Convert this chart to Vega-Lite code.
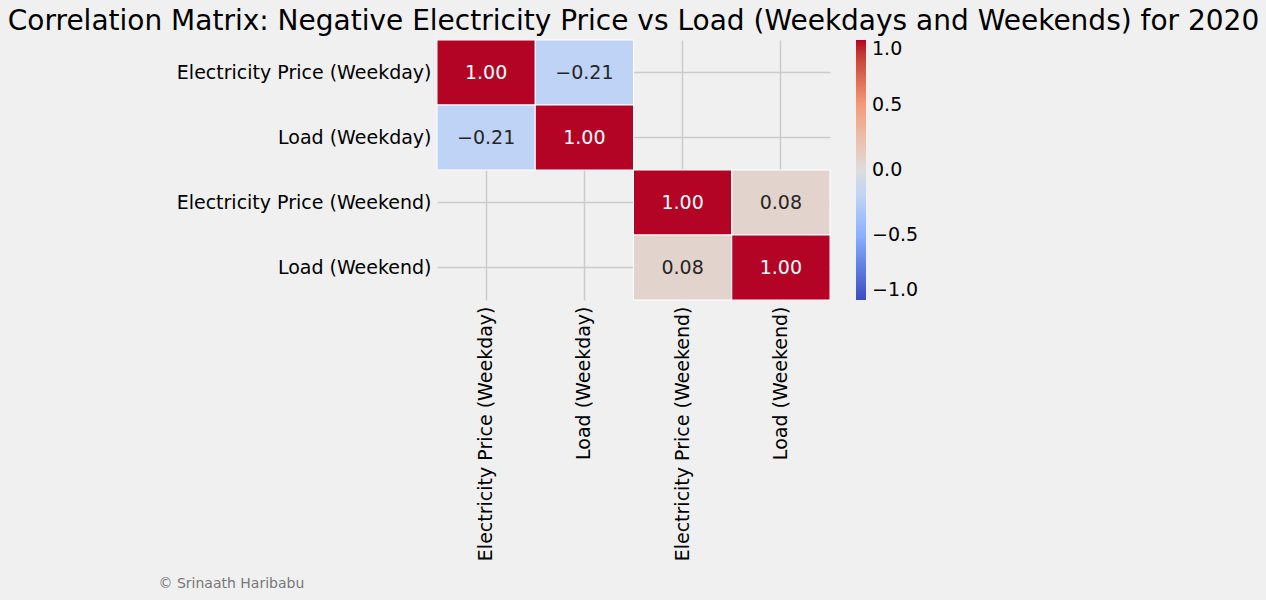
{
  "$schema": "https://vega.github.io/schema/vega-lite/v6.json",
  "autosize": "none",
  "padding": {"left": 437, "top": 40, "right": 436, "bottom": 300},
  "width": 393,
  "height": 260,
  "background": "#f0f0f0",
  "config": {
    "font": "DejaVu Sans",
    "view": {"stroke": null},
    "axis": {"labelFontSize": 19, "labelColor": "#000", "labelLimit": 0, "domain": false, "ticks": false, "grid": true, "gridColor": "#cbcbcb", "gridWidth": 1.5, "bandPosition": 0.5, "labelPadding": 6, "zindex": 0}
  },
  "title": {"text": "Correlation Matrix: Negative Electricity Price vs Load (Weekdays and Weekends) for 2020", "fontSize": 28, "fontWeight": "normal", "anchor": "middle", "offset": 4, "color": "#000"},
  "data": {
    "values": [
      {"row": "Electricity Price (Weekday)", "col": "Electricity Price (Weekday)", "v": 1.0},
      {"row": "Electricity Price (Weekday)", "col": "Load (Weekday)", "v": -0.21},
      {"row": "Load (Weekday)", "col": "Electricity Price (Weekday)", "v": -0.21},
      {"row": "Load (Weekday)", "col": "Load (Weekday)", "v": 1.0},
      {"row": "Electricity Price (Weekend)", "col": "Electricity Price (Weekend)", "v": 1.0},
      {"row": "Electricity Price (Weekend)", "col": "Load (Weekend)", "v": 0.08},
      {"row": "Load (Weekend)", "col": "Electricity Price (Weekend)", "v": 0.08},
      {"row": "Load (Weekend)", "col": "Load (Weekend)", "v": 1.0}
    ]
  },
  "encoding": {
    "x": {"field": "col", "type": "nominal",
      "scale": {"domain": ["Electricity Price (Weekday)", "Load (Weekday)", "Electricity Price (Weekend)", "Load (Weekend)"], "paddingInner": 0, "paddingOuter": 0},
      "axis": {"labelAngle": -90, "title": "© Srinaath Haribabu", "titleFontSize": 14, "titleFontWeight": "normal", "titleColor": "#777", "titleAnchor": "start", "titleAlign": "left", "titleX": -279, "titleY": 287, "titleBaseline": "alphabetic"}},
    "y": {"field": "row", "type": "nominal",
      "scale": {"domain": ["Electricity Price (Weekday)", "Load (Weekday)", "Electricity Price (Weekend)", "Load (Weekend)"], "paddingInner": 0, "paddingOuter": 0},
      "axis": {"title": null}}
  },
  "layer": [
    {
      "mark": {"type": "rect", "stroke": "white", "strokeWidth": 1},
      "encoding": {
        "color": {"field": "v", "type": "quantitative",
          "scale": {"domain": [-1, -0.5, -0.2, 0, 0.5, 1], "range": ["#3b4cc0", "#8db0fe", "#c0d4f5", "#dddddd", "#f49a7b", "#b40426"]},
          "legend": {"title": null, "gradientLength": 260, "gradientThickness": 10, "offset": 26, "values": [-1, -0.5, 0, 0.5, 1], "format": ".1f", "labelFontSize": 19, "labelColor": "#000", "labelOffset": 6}}
      }
    },
    {
      "mark": {"type": "text", "fontSize": 19},
      "encoding": {
        "text": {"field": "v", "type": "quantitative", "format": ".2f"},
        "color": {"condition": {"test": "abs(datum.v) > 0.5", "value": "white"}, "value": "#262626"}
      }
    }
  ]
}
